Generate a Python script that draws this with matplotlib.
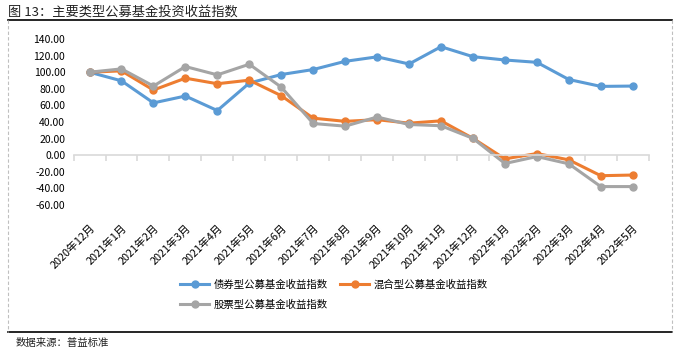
import numpy as np
import matplotlib.pyplot as plt
from matplotlib.lines import Line2D

plt.rcParams['font.family'] = ['Noto Sans CJK SC', 'DejaVu Sans']

months = ['2020年12月', '2021年1月', '2021年2月', '2021年3月', '2021年4月', '2021年5月',
          '2021年6月', '2021年7月', '2021年8月', '2021年9月', '2021年10月', '2021年11月',
          '2021年12月', '2022年1月', '2022年2月', '2022年3月', '2022年4月', '2022年5月']

bond = [100.0, 89.6, 63.0, 71.3, 53.8, 86.9, 97.2, 103.2, 113.1, 118.5,
        109.9, 130.7, 118.7, 114.7, 111.9, 91.2, 82.9, 83.3]
mixed = [100.0, 101.6, 78.5, 92.8, 86.1, 90.4, 71.7, 44.6, 40.8, 42.8,
         38.6, 41.4, 20.3, -4.4, 2.0, -5.6, -24.7, -23.9]
stock = [100.0, 104.0, 83.3, 106.8, 96.8, 109.6, 82.0, 38.2, 35.0, 46.0,
         37.0, 35.5, 20.3, -10.0, -1.6, -10.4, -37.8, -37.8]

names = ['债券型公募基金收益指数', '混合型公募基金收益指数', '股票型公募基金收益指数']
colors = ['#5B9BD5', '#ED7D31', '#A5A5A5']

fig = plt.figure(figsize=(6.81, 3.52), dpi=100)
ax = fig.add_axes([0.108, 0.4176, 0.8446, 0.4716])

x = np.arange(len(months))
for vals, name, c in zip([bond, mixed, stock], names, colors):
    ax.plot(x, vals, color=c, lw=2.2, marker='o', ms=5, label=name,
            solid_joinstyle='round')

ax.set_xlim(-0.5, len(months) - 0.5)
ax.set_ylim(-60, 140)
ax.set_yticks(np.arange(-60, 141, 20))
ax.set_yticklabels([f'{v:.2f}' for v in np.arange(-60, 141, 20)])
ax.tick_params(axis='y', length=0, labelsize=7.5, pad=6, labelcolor='#000000')

for s in ['top', 'right', 'left']:
    ax.spines[s].set_visible(False)
ax.spines['bottom'].set_position(('data', 0))
ax.spines['bottom'].set_color('#D9D9D9')
ax.spines['bottom'].set_linewidth(1.2)
ax.set_xticks(np.arange(-0.5, len(months), 1), minor=True)
ax.set_xticks(x)
ax.tick_params(axis='x', which='major', length=0, labelbottom=False)
ax.tick_params(axis='x', which='minor', length=4, width=1.2, color='#D9D9D9', direction='out')

sec = ax.secondary_xaxis('bottom')
sec.set_xticks(x)
sec.set_xticklabels(months, rotation=45, ha='right', va='top', rotation_mode='anchor')
sec.tick_params(length=0, labelsize=7.8, pad=13)
sec.spines['bottom'].set_visible(False)

# order so that row 1 = bond, mixed; row 2 = stock
order = [0, 2, 1]
handles = [Line2D([0], [0], color=colors[i], lw=2.2, marker='o', ms=5) for i in order]
fig.legend(handles, [names[i] for i in order], ncol=2, loc='center',
           bbox_to_anchor=(0.49, 0.163), frameon=False, fontsize=7.5, handlelength=2.8,
           columnspacing=1.2, labelspacing=0.9, handletextpad=0.4)

fig.text(8 / 681, 1 - 12 / 352, '图 13：主要类型公募基金投资收益指数', fontsize=9.5,
         fontweight='medium', color='#222222', va='center', ha='left')
fig.text(16 / 681, 1 - 343 / 352, '数据来源：普益标准', fontsize=7.5,
         color='#222222', va='center', ha='left')

fig.add_artist(Line2D([8 / 681, 672 / 681], [1 - 20 / 352] * 2, color='black', lw=1.2,
                      transform=fig.transFigure))
fig.add_artist(Line2D([8 / 681, 672 / 681], [1 - 332 / 352] * 2, color='black', lw=1.2,
                      transform=fig.transFigure))
for xp in [8, 672]:
    fig.add_artist(Line2D([xp / 681] * 2, [1 - 20 / 352, 1 - 332 / 352], color='#BFBFBF',
                          lw=0.8, ls=(0, (3, 2)), transform=fig.transFigure))

fig.savefig('out.png', dpi=100)
